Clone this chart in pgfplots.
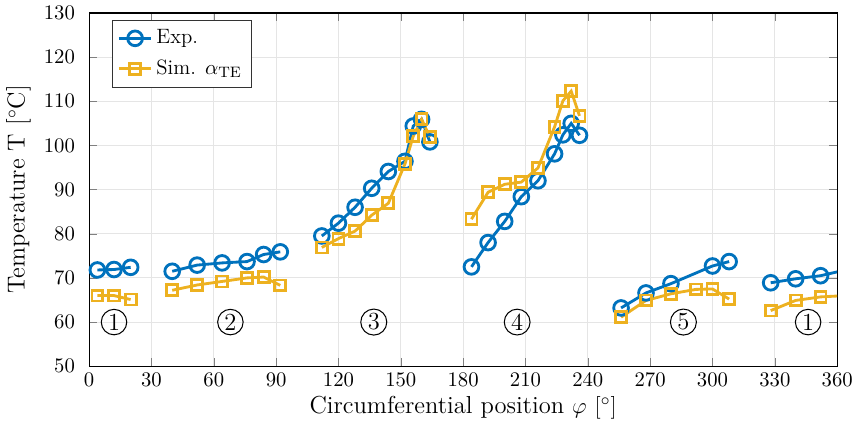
\documentclass[border=0pt]{standalone}
\usepackage{pgfplots}
\pgfplotsset{compat=1.18}
\definecolor{mblue}{rgb}{0,0.447,0.741}
\definecolor{myellow}{rgb}{0.929,0.694,0.125}
\pgfplotsset{
  expst/.style={mblue, line width=1.5pt, mark=o, mark size=3.9pt, mark options={line width=1.5pt}},
  simst/.style={myellow, line width=1.5pt, mark=square, mark size=2.9pt, mark options={line width=1.5pt}},
}
\begin{document}
\begin{tikzpicture}
\begin{axis}[
  scale only axis, width=396pt, height=187pt,
  xmin=0, xmax=360, ymin=50, ymax=130,
  xtick={0,30,...,360}, ytick={50,60,...,130},
  tick align=inside, tick pos=both,
  ticklabel style={font=\fontsize{11}{13}\selectfont},
  yticklabel style={xshift=-4pt},
  grid=major, major grid style={gray!20, line width=0.5pt},
  axis line style={black, line width=0.6pt},
  xlabel={\fontsize{13}{15}\selectfont Circumferential position $\varphi$ $\left[^\circ\right]$},
  ylabel={\fontsize{13}{15}\selectfont Temperature T [$^\circ$C]},
  xlabel style={yshift=1.5pt}, ylabel style={yshift=0pt},
  clip=true,
  legend style={at={(0.03,0.98)}, anchor=north west, draw=black!80, fill=white, font=\fontsize{11}{13}\selectfont, row sep=3pt, inner sep=3pt},
  legend cell align=left,
]
\addplot[expst] coordinates {
(4,71.8)(12,71.9)(20,72.4)};
\addlegendentry{Exp.}
\addplot[simst] coordinates {
(4,66.0)(12,66.0)(20,65.1)};
\addlegendentry{Sim. $\alpha_{\mathrm{TE}}$}
% segment 2
\addplot[expst, forget plot] coordinates {
(40,71.5)(52,72.9)(64,73.4)(76,73.7)(84,75.3)(92,75.9)};
\addplot[simst, forget plot] coordinates {
(40,67.2)(52,68.4)(64,69.2)(76,70.0)(84,70.2)(92,68.3)};
% segment 3
\addplot[expst, forget plot] coordinates {
(112,79.5)(120,82.4)(128,86.0)(136,90.3)(144,94.1)(152,96.4)(156,104.4)(160,105.9)(164,100.8)};
\addplot[simst, forget plot] coordinates {
(112,76.9)(120,78.9)(128,80.6)(136,84.2)(144,86.9)(152,95.8)(156,102.1)(160,105.9)(164,101.9)};
% segment 4
\addplot[expst, forget plot] coordinates {
(184,72.5)(192,78.0)(200,82.8)(208,88.4)(216,92.0)(224,98.1)(228,102.4)(232,105.0)(236,102.3)};
\addplot[simst, forget plot] coordinates {
(184,83.3)(192,89.4)(200,91.2)(208,91.7)(216,94.9)(224,104.2)(228,110.1)(232,112.3)(236,106.7)};
% segment 5
\addplot[expst, forget plot] coordinates {
(256,63.2)(268,66.6)(280,68.7)(300,72.7)(308,73.7)};
\addplot[simst, forget plot] coordinates {
(256,61.1)(268,64.9)(280,66.4)(292,67.4)(300,67.5)(308,65.2)};
% segment 1 (wrap)
\addplot[expst, forget plot] coordinates {
(328,68.9)(340,69.8)(352,70.5)(364,71.8)};
\addplot[simst, forget plot] coordinates {
(328,62.6)(340,64.9)(352,65.7)(364,66.0)};
% labels
\tikzset{cnum/.style={draw, circle, inner sep=1pt, line width=0.55pt, font=\fontsize{13}{15}\selectfont}}
\node[cnum] at (axis cs:12,60) {1};
\node[cnum] at (axis cs:68,60) {2};
\node[cnum] at (axis cs:137,60) {3};
\node[cnum] at (axis cs:206,60) {4};
\node[cnum] at (axis cs:286,60) {5};
\node[cnum] at (axis cs:346,60) {1};
\end{axis}
\end{tikzpicture}
\end{document}
